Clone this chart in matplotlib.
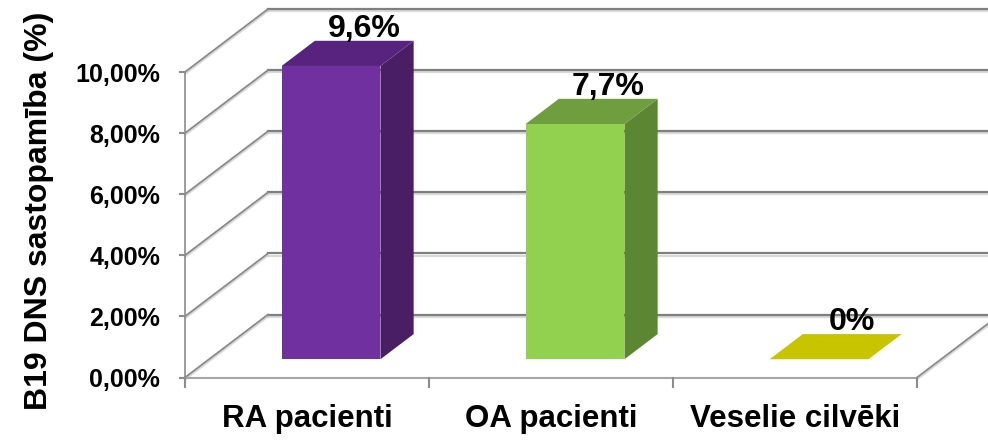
import matplotlib.pyplot as plt
from matplotlib.patches import Polygon
import matplotlib.patheffects as pe

plt.rcParams['font.family'] = ['Liberation Sans', 'DejaVu Sans']
plt.rcParams['font.weight'] = 'bold'

categories = ['RA pacienti', 'OA pacienti', 'Veselie cilvēki']
values = [9.6, 7.7, 0.0]
value_labels = ['9,6%', '7,7%', '0%']
y_ticks = [0, 2, 4, 6, 8, 10]
y_tick_labels = ['0,00%', '2,00%', '4,00%', '6,00%', '8,00%', '10,00%']
y_title = 'B19 DNS sastopamība (%)'

# face colours per bar: front, top, side
front_colors = ['#7030A0', '#92D050', '#B8B400']
top_colors = ['#57237E', '#6E9E3E', '#C8C400']
side_colors = ['#4A1E65', '#5D8632', '#A09C00']

# 3d box geometry (x in category units, y in percent)
DEPTH_X = 0.34
DEPTH_Y = 2.06
BAR_W = 0.405
Z0, Z1 = 0.29, 0.69


def proj(x, y, z):
    return (x + z * DEPTH_X, y + z * DEPTH_Y)


fig = plt.figure(figsize=(9.88, 4.46), dpi=100)
ax = fig.add_axes([0, 0, 1, 1])
ax.set_xlim(-185 / 244, (988 - 185) / 244)
ax.set_ylim(-(446 - 377.5) / 30.55, 377.5 / 30.55)
ax.axis('off')

n = len(categories)
ymax = y_ticks[-1]
shadow = [pe.SimpleLineShadow(offset=(0, -1.5), shadow_color='#c0c0c0', alpha=0.6), pe.Normal()]

# back wall gridlines
for v in y_ticks:
    xa, ya = proj(0, v, 1)
    xb, yb = proj(n, v, 1)
    ax.plot([xa, xb], [ya, yb], color='#7f7f7f', lw=1.6, zorder=1, path_effects=shadow)

# side wall lines
for v in y_ticks:
    xa, ya = proj(0, v, 0)
    xb, yb = proj(0, v, 1)
    ax.plot([xa, xb], [ya, yb], color='#8a8a8a', lw=1.3, zorder=1, path_effects=shadow)

# floor right edge
xa, ya = proj(n, 0, 0)
xb, yb = proj(n, 0, 1)
ax.plot([xa, xb], [ya, yb], color='#8a8a8a', lw=1.3, zorder=1, path_effects=shadow)

# front axes
ax.plot([0, 0], [0, ymax], color='#8c8c8c', lw=1.2, zorder=2)
ax.plot([0, n], [0, 0], color='#a6a6a6', lw=1.5, zorder=2)
for v, lab in zip(y_ticks, y_tick_labels):
    ax.plot([-5 / 244, 0], [v, v], color='#8c8c8c', lw=1.5, zorder=2)
    ax.annotate(lab, (0, v), xytext=(-18, -2), textcoords='offset points',
                ha='right', va='center', fontsize=18, fontweight='bold')
for i in range(n + 1):
    ax.plot([i, i], [0, -0.3], color='#8c8c8c', lw=1.5, zorder=2)
for i, cat in enumerate(categories):
    ax.annotate(cat, (i + 0.5, 0), xytext=(0, -19), textcoords='offset points',
                ha='center', va='top', fontsize=22.5, fontweight='bold')

ax.text(-0.6, 5.45, y_title, rotation=90, ha='center', va='center',
        fontsize=23, fontweight='bold')

# bars
for i, v in enumerate(values):
    xl = i + 0.5 - BAR_W / 2
    xr = i + 0.5 + BAR_W / 2
    front = [proj(xl, 0, Z0), proj(xr, 0, Z0), proj(xr, v, Z0), proj(xl, v, Z0)]
    side = [proj(xr, 0, Z0), proj(xr, 0, Z1), proj(xr, v, Z1), proj(xr, v, Z0)]
    top = [proj(xl, v, Z0), proj(xr, v, Z0), proj(xr, v, Z1), proj(xl, v, Z1)]
    ax.add_patch(Polygon(front, closed=True, facecolor=front_colors[i], edgecolor='none', zorder=3))
    ax.add_patch(Polygon(side, closed=True, facecolor=side_colors[i], edgecolor='none', zorder=3))
    ax.add_patch(Polygon(top, closed=True, facecolor=top_colors[i], edgecolor='none', zorder=3))
    ax.annotate(value_labels[i], proj(i + 0.5, v, Z1), xytext=(0, 3), textcoords='offset points',
                ha='center', va='baseline', fontsize=23, fontweight='bold', zorder=4)

fig.savefig('out.png', dpi=100)
